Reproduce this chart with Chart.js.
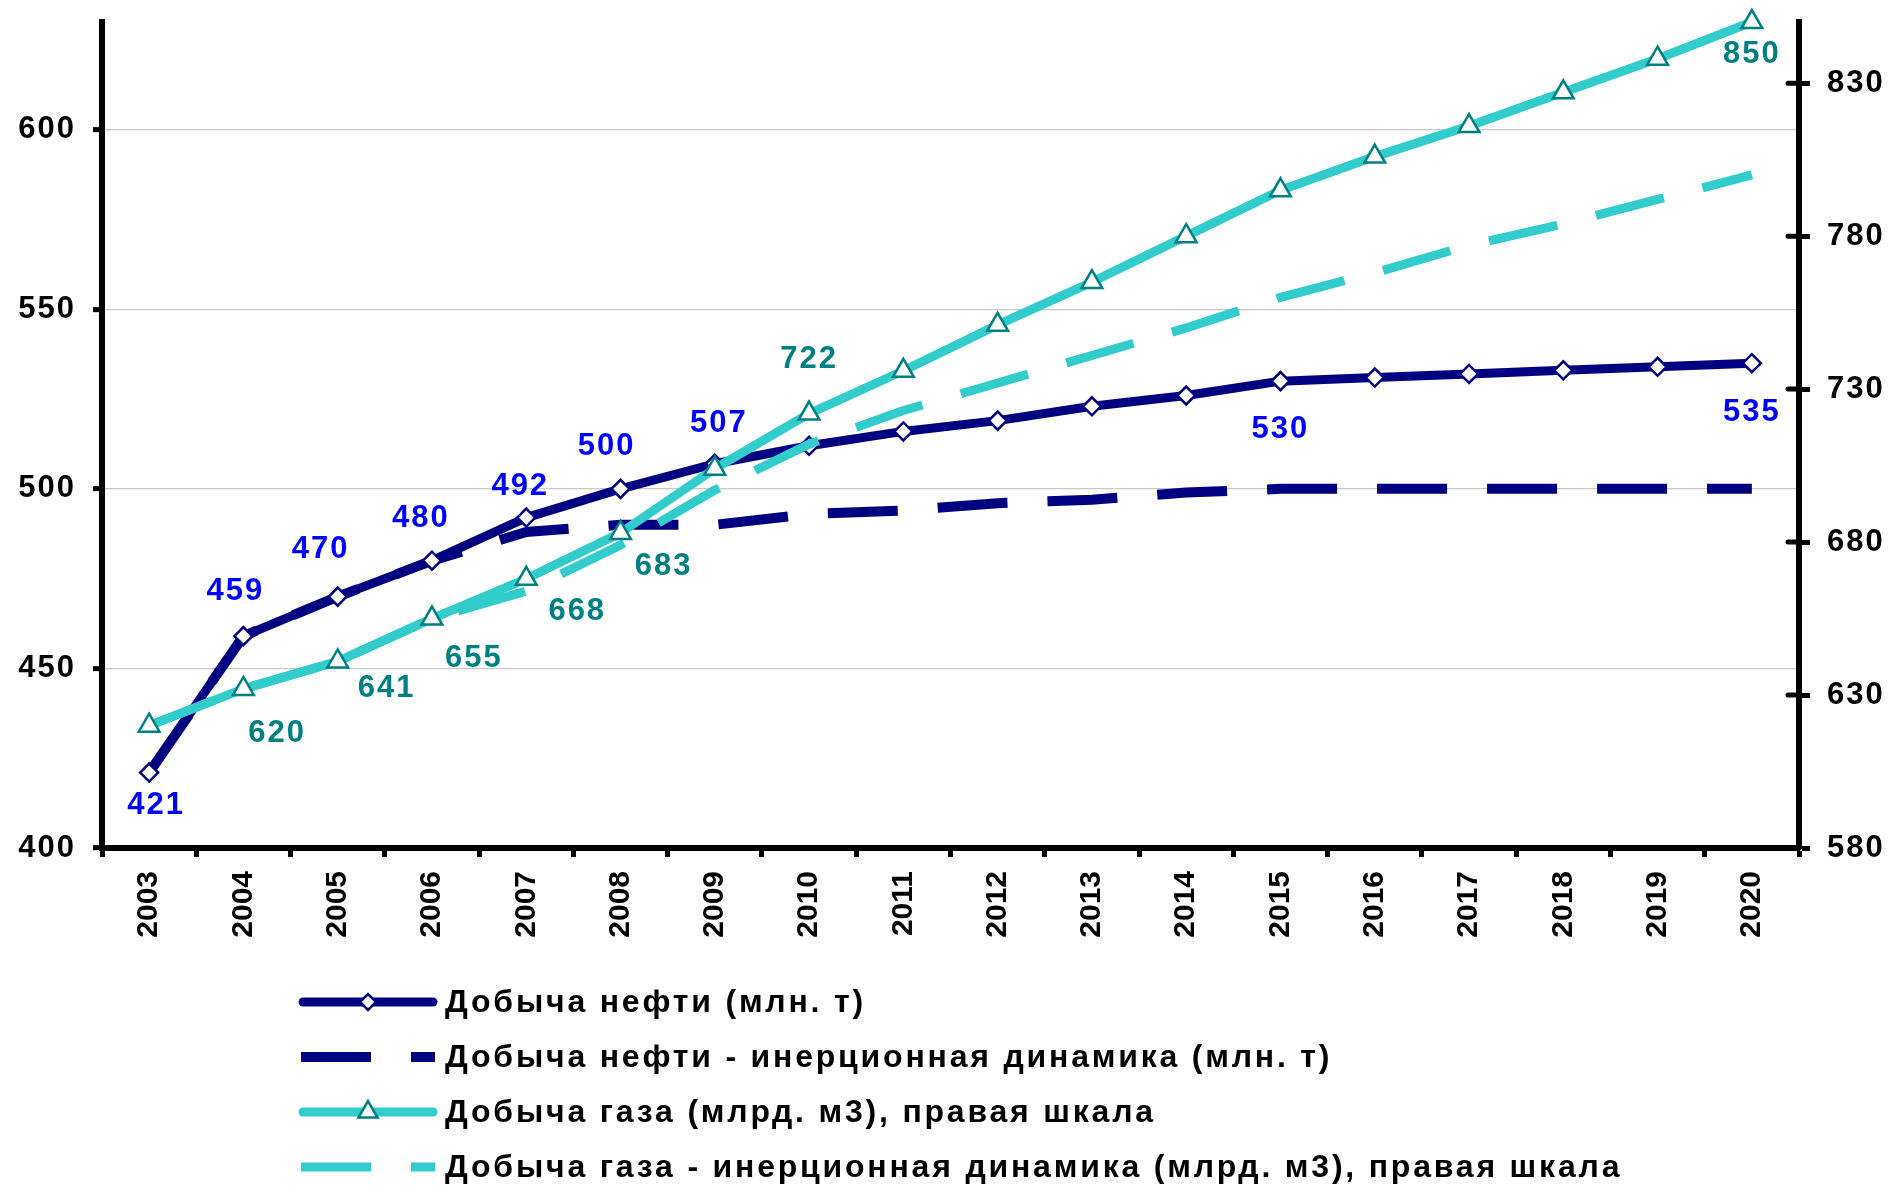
<!DOCTYPE html>
<html>
<head>
<meta charset="utf-8">
<script src="https://cdn.jsdelivr.net/npm/chart.js@4.4.0/dist/chart.umd.min.js"></script>
<style>
html,body{margin:0;padding:0;background:#fff;}
canvas{display:block;}
</style>
</head>
<body>
<canvas id="c" width="1890" height="1186"></canvas>
<script>
// ---------- data ----------
const years = ['2003','2004','2005','2006','2007','2008','2009','2010','2011','2012','2013','2014','2015','2016','2017','2018','2019','2020'];
const oil = [421,459,470,480,492,500,507,512,516,519,523,526,530,531,532,533,534,535];
const oilInertial = [421,459,470,480,488,490,490,493,494,496,497,499,500,500,500,500,500,500];
const gas = [620,632,641,655,668,683,704,722,736,751,765,780,795,806,816,827,838,850];
const gasInertial = [620,632,641,655,664,679,697,712,723,732,741,750,760,768,777,784,792,800];
const leftTicks = [400,450,500,550,600];
const rightTicks = [580,630,680,730,780,830];
const seriesNames = [
  'Добыча нефти (млн. т)',
  'Добыча нефти - инерционная динамика (млн. т)',
  'Добыча газа (млрд. м3), правая шкала',
  'Добыча газа - инерционная динамика (млрд. м3), правая шкала'
];
// which points carry a value label
const oilLabelIdx = [0,1,2,3,4,5,6,12,17];
const gasLabelIdx = [0,2,3,4,5,7,17];

// ---------- label placement (pixels) ----------
const oilLabelOffset = [[7,33],[-8,-45],[-17,-47],[-11,-42],[-6,-31],[-14,-42],[4,-40],[0,48],[0,49]];
const gasLabelOffset = [[128,8],[49,27],[42,40],[51,33],[43,34],[0,-54],[0,32]];

const FONT = "'Liberation Sans', Arial, sans-serif";
const LS = '2px';
const NAVY = '#000080', CYAN = '#33CCCC', TEAL = '#008080';

const fx = {
  id: 'fx',
  beforeLayout(chart){ chart.ctx.letterSpacing = LS; },
  beforeDraw(chart){ chart.ctx.letterSpacing = LS; },
  afterDatasetsDraw(chart){ chart.ctx.letterSpacing = '0px'; },
  afterDraw(chart){
    const ctx = chart.ctx;
    const xs = chart.scales.x, ys = chart.scales.y, y1 = chart.scales.y1;
    ctx.save();
    ctx.letterSpacing = LS;
    // inner half of right-axis tick marks (cross ticks)
    ctx.strokeStyle = '#000'; ctx.lineWidth = 5; ctx.lineCap = 'round';
    y1.ticks.forEach(t => {
      const py = y1.getPixelForValue(t.value);
      ctx.beginPath(); ctx.moveTo(y1.left, py); ctx.lineTo(y1.left - 11, py); ctx.stroke();
    });
    // value labels
    ctx.font = 'bold 31px ' + FONT;
    ctx.textAlign = 'center'; ctx.textBaseline = 'middle';
    ctx.fillStyle = '#0000FF';
    oilLabelIdx.forEach((i, k) => {
      const x = xs.getPixelForValue(i) + oilLabelOffset[k][0];
      const y = ys.getPixelForValue(oil[i]) + oilLabelOffset[k][1];
      ctx.fillText(String(Math.round(oil[i])), x, y);
    });
    ctx.fillStyle = TEAL;
    gasLabelIdx.forEach((i, k) => {
      const x = xs.getPixelForValue(i) + gasLabelOffset[k][0];
      const y = y1.getPixelForValue(gas[i]) + gasLabelOffset[k][1];
      ctx.fillText(String(Math.round(gas[i])), x, y);
    });
    // legend
    const rowsY = [1002, 1057, 1112, 1167];
    const lx0 = 299, lx1 = 437, tx = 445;
    chart.data.datasets.forEach((ds, i) => {
      const yy = rowsY[i];
      ctx.save();
      ctx.strokeStyle = ds.borderColor;
      ctx.lineWidth = ds.borderWidth;
      if (ds.borderDash && ds.borderDash.length) {
        ctx.setLineDash(ds.borderDash); ctx.lineCap = 'butt';
        ctx.beginPath(); ctx.moveTo(lx0 + 2, yy); ctx.lineTo(lx1 - 2, yy); ctx.stroke();
      } else {
        ctx.lineCap = 'round';
        ctx.beginPath(); ctx.moveTo(lx0 + 4, yy); ctx.lineTo(lx1 - 4, yy); ctx.stroke();
        ctx.setLineDash([]);
        ctx.fillStyle = ds.pointBackgroundColor; ctx.strokeStyle = ds.pointBorderColor;
        ctx.lineWidth = ds.pointBorderWidth;
        Chart.helpers.drawPoint(ctx, {pointStyle: ds.pointStyle, radius: ds.pointRadius - 1, borderWidth: ds.pointBorderWidth, rotation: 0}, (lx0 + lx1) / 2, yy);
      }
      ctx.restore();
      ctx.fillStyle = '#000';
      ctx.letterSpacing = '2.8px';
      ctx.font = 'bold 32px ' + FONT;
      ctx.textAlign = 'left'; ctx.textBaseline = 'middle';
      ctx.fillText(ds.label, tx, yy + 1);
    });
    ctx.restore();
  }
};

function zeroPad(s){ s.paddingTop = 0; s.paddingBottom = 0; s.paddingLeft = 0; s.paddingRight = 0; }
const tickFont = {family: FONT, size: 31, weight: 'bold'};

new Chart(document.getElementById('c'), {
  type: 'line',
  data: {
    labels: years,
    datasets: [
      {label: seriesNames[0], data: oil, yAxisID: 'y', order: 3, clip: false,
       borderColor: NAVY, borderWidth: 9, borderJoinStyle: 'round', borderCapStyle: 'round',
       pointStyle: 'rectRot', pointRadius: 9, pointBackgroundColor: '#fff', pointBorderColor: NAVY, pointBorderWidth: 2.5},
      {label: seriesNames[1], data: oilInertial, yAxisID: 'y', order: 4, clip: false,
       borderColor: NAVY, borderWidth: 10, borderDash: [70, 40], pointRadius: 0},
      {label: seriesNames[2], data: gas, yAxisID: 'y1', order: 1, clip: false,
       borderColor: CYAN, borderWidth: 9, borderJoinStyle: 'round', borderCapStyle: 'round',
       pointStyle: 'triangle', pointRadius: 12, pointBackgroundColor: '#fff', pointBorderColor: TEAL, pointBorderWidth: 2.5},
      {label: seriesNames[3], data: gasInertial, yAxisID: 'y1', order: 2, clip: false,
       borderColor: CYAN, borderWidth: 9, borderDash: [70, 40], pointRadius: 0}
    ]
  },
  options: {
    responsive: false,
    animation: false,
    devicePixelRatio: 1,
    events: [],
    layout: {padding: {top: 22, left: 0, right: 0, bottom: 0}},
    plugins: {legend: {display: false}, tooltip: {enabled: false}},
    elements: {line: {tension: 0}},
    scales: {
      x: {
        type: 'category', offset: true,
        grid: {offset: true, drawOnChartArea: false, tickLength: 9, tickWidth: 5, tickColor: '#000'},
        border: {display: true, color: '#000', width: 6},
        ticks: {color: '#000', font: {family: FONT, size: 30, weight: 'bold'}, maxRotation: 90, minRotation: 90, padding: 14, autoSkip: false, z: 1},
        afterFit(s){ s.height = 338; zeroPad(s); }
      },
      y: {
        position: 'left', min: 400, max: 630,
        afterBuildTicks(s){ s.ticks = leftTicks.map(v => ({value: v})); },
        grid: {color: '#C8C8C8', lineWidth: 1.3, tickLength: 9, tickWidth: 5, tickColor: '#000'},
        border: {display: true, color: '#000', width: 6},
        ticks: {color: '#000', font: tickFont, padding: 17},
        afterFit(s){ s.width = 102; zeroPad(s); }
      },
      y1: {
        position: 'right', min: 580, max: 850,
        afterBuildTicks(s){ s.ticks = rightTicks.map(v => ({value: v})); },
        grid: {drawOnChartArea: false, tickLength: 11, tickWidth: 5, tickColor: '#000'},
        border: {display: true, color: '#000', width: 6},
        ticks: {color: '#000', font: tickFont, padding: 17},
        afterFit(s){ s.width = 91; zeroPad(s); }
      }
    }
  },
  plugins: [fx]
});
</script>
</body>
</html>
